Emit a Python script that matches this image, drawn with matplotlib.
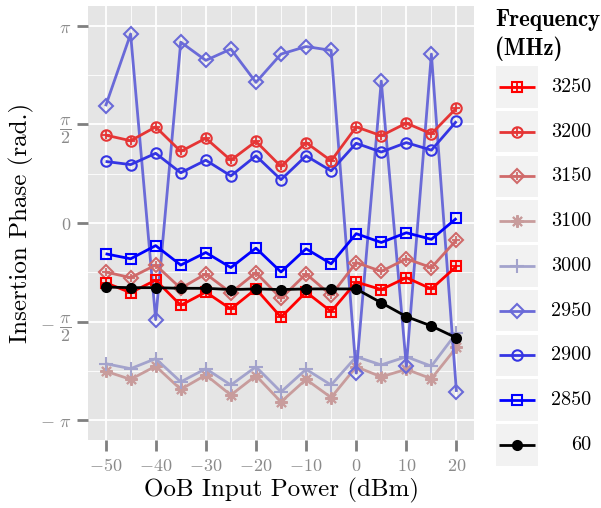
"""
Insertion phase vs out-of-band input power, one trace per frequency.
"""
import numpy as np
import matplotlib
matplotlib.use("Agg")
import matplotlib.pyplot as plt
from matplotlib.patches import Rectangle

plt.rcParams["mathtext.fontset"] = "cm"
plt.rcParams["axes.unicode_minus"] = False

power = [-50, -45, -40, -35, -30, -25, -20, -15, -10, -5, 0, 5, 10, 15, 20]

freqs = ["3250", "3200", "3150", "3100", "3000", "2950", "2900", "2850", "60"]

phase_3250 = [-0.95, -1.11, -0.91, -1.31, -1.10, -1.37, -1.05, -1.50, -1.10, -1.41, -0.94, -1.06, -0.87, -1.05, -0.69]
phase_3200 = [1.40, 1.31, 1.53, 1.14, 1.35, 1.00, 1.30, 0.90, 1.28, 0.99, 1.53, 1.39, 1.59, 1.42, 1.83]
phase_3150 = [-0.78, -0.87, -0.67, -1.04, -0.81, -1.11, -0.79, -1.20, -0.81, -1.15, -0.63, -0.77, -0.57, -0.71, -0.27]
phase_3100 = [-2.36, -2.49, -2.28, -2.65, -2.42, -2.74, -2.43, -2.85, -2.49, -2.78, -2.29, -2.45, -2.33, -2.48, -1.98]
phase_3000 = [-2.24, -2.32, -2.16, -2.53, -2.32, -2.58, -2.29, -2.69, -2.33, -2.58, -2.13, -2.26, -2.13, -2.28, -1.75]
phase_2950 = [1.86, 3.01, -1.54, 2.88, 2.59, 2.77, 2.24, 2.69, 2.81, 2.75, -2.39, 2.26, -2.28, 2.69, -2.69]
phase_2900 = [0.98, 0.93, 1.11, 0.80, 1.00, 0.75, 1.07, 0.69, 1.07, 0.83, 1.27, 1.13, 1.28, 1.16, 1.62]
phase_2850 = [-0.49, -0.57, -0.36, -0.67, -0.47, -0.71, -0.40, -0.78, -0.41, -0.65, -0.17, -0.31, -0.155, -0.26, 0.075]
phase_60 = [-1.02, -1.03, -1.03, -1.04, -1.04, -1.06, -1.05, -1.06, -1.05, -1.05, -1.05, -1.27, -1.49, -1.64, -1.83]

series = {
    "3250": phase_3250, "3200": phase_3200, "3150": phase_3150,
    "3100": phase_3100, "3000": phase_3000, "2950": phase_2950,
    "2900": phase_2900, "2850": phase_2850, "60": phase_60,
}

# colour, base marker, overlay marker, marker size, filled
styles = {
    "3250": ("#ff0000", "s", "+", 7, False),
    "3200": ("#e53535", "o", "+", 7.5, False),
    "3150": ("#d06a6a", "D", "+", 7, False),
    "3100": ("#c89c9c", (8, 2, 0), None, 9, False),
    "3000": ("#a3a3cc", "+", None, 10, False),
    "2950": ("#6a6ad8", "D", None, 7.5, False),
    "2900": ("#3535e3", "o", None, 7.5, False),
    "2850": ("#0000ff", "s", None, 7, False),
    "60": ("#000000", "o", None, 6.5, True),
}
draw_order = ["3100", "3000", "2950", "3150", "3250", "60", "2850", "2900", "3200"]


def draw_marks(ax, x, y, key, lw=2.0, every=None):
    col, mk, over, ms, filled = styles[key]
    ax.plot(x, y, color=col, lw=lw, marker=mk, ms=ms, markevery=every,
            mfc=col if filled else "none", mec=col, mew=1.5,
            solid_capstyle="butt")
    if over is not None:
        ax.plot(x, y, ls="none", marker=over, ms=ms * 0.75, mec=col, mew=1.3,
                markevery=every)


W, H = 601, 508
fig = plt.figure(figsize=(W / 100, H / 100), dpi=100)
ax = fig.add_axes([88 / W, (H - 440) / H, (474 - 88) / W, (440 - 6) / H])
ax.set_facecolor("#e5e5e5")

for key in draw_order:
    draw_marks(ax, power, series[key], key)

ax.set_xlim(-53.5, 23.5)
ax.set_ylim(-1.1 * np.pi, 1.1 * np.pi)

xt = [-50, -40, -30, -20, -10, 0, 10, 20]
ax.set_xticks(xt)
ax.set_xticklabels([rf"${v}$" for v in xt])
ax.set_xticks([-45, -35, -25, -15, -5, 5, 15], minor=True)
yt = [-np.pi, -np.pi / 2, 0, np.pi / 2, np.pi]
ax.set_yticks(yt)
ax.set_yticklabels([r"$-\ \pi$", r"$-\ \dfrac{\pi}{2}$", r"$0$",
                    r"$\dfrac{\pi}{2}$", r"$\pi$"])
ax.set_yticks([-3 * np.pi / 4, -np.pi / 4, np.pi / 4, 3 * np.pi / 4], minor=True)

ax.grid(which="major", color="white", lw=1.3)
ax.grid(which="minor", color="white", lw=0.6)
ax.set_axisbelow(True)
for s in ax.spines.values():
    s.set_visible(False)
ax.tick_params(which="major", length=8, width=2, color="#808080",
               labelcolor="#8a8a8a", labelsize=13, pad=4)
ax.tick_params(which="minor", length=0)

ax.set_xlabel("OoB Input Power (dBm)", family="cmr10", fontsize=18, labelpad=2)
ax.set_ylabel("Insertion Phase (rad.)", family="cmr10", fontsize=18, labelpad=4)

# legend drawn by hand in pixel space, ggplot style keys
lg = fig.add_axes([0, 0, 1, 1])
lg.set_xlim(0, W)
lg.set_ylim(H, 0)
lg.axis("off")
lg.text(495, 9, "Frequency\n(MHz)", family="cmb10", fontsize=16.5, va="top",
        ha="left", linespacing=1.3)
for i, key in enumerate(freqs):
    top = 66 + i * 44.75
    lg.add_patch(Rectangle((496, top), 42, 41.7, facecolor="#f2f2f2", edgecolor="none"))
    cy = top + 20.85
    draw_marks(lg, [499, 517, 535], [cy, cy, cy], key, every=[1])
    lg.text(591, cy, key, family="cmr10", fontsize=14.5, ha="right", va="center")

fig.savefig("out.png", dpi=100)
